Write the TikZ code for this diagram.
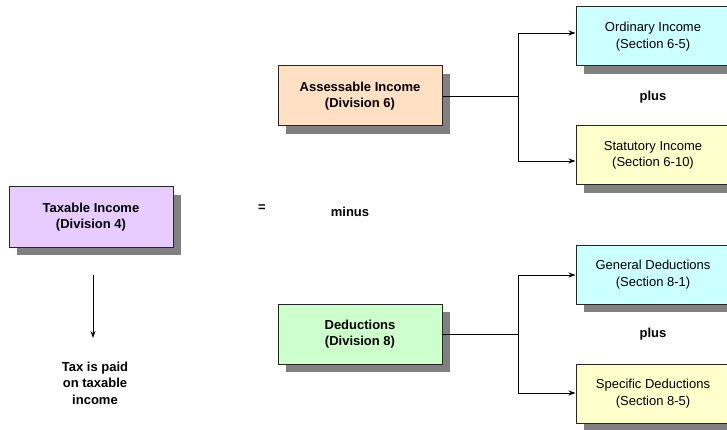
\documentclass[tikz,border=0pt]{standalone}
\usepackage{fontspec}
\setmainfont{Liberation Sans}
\usetikzlibrary{shadows,arrows.meta}
\definecolor{lav}{HTML}{E6CCFF}
\definecolor{peach}{HTML}{FFE0C2}
\definecolor{mint}{HTML}{CCFFCC}
\definecolor{icy}{HTML}{CCFFFF}
\definecolor{cream}{HTML}{FFFFCC}
\tikzset{
  boxa/.style={draw=black!85, line width=1pt, minimum width=164pt, minimum height=60pt,
    align=center, font=\fontsize{13}{16.5}\selectfont\bfseries,
    drop shadow={shadow xshift=8pt, shadow yshift=-8pt, fill=black!50, opacity=1}},
  boxb/.style={draw=black!85, line width=1pt, minimum width=154pt, minimum height=59pt,
    align=center, font=\fontsize{13}{16.5}\selectfont,
    drop shadow={shadow xshift=8pt, shadow yshift=-8pt, fill=black!50, opacity=1}},
  lbl/.style={align=center, font=\fontsize{13}{16.5}\selectfont\bfseries},
  conn/.style={line width=0.9pt, draw=black},
  arr/.style={conn, -{Stealth[length=7pt,width=5pt]}}
}
\begin{document}
\begin{tikzpicture}[x=1pt,y=-1pt]
\useasboundingbox (0,0) rectangle (727,430);
\node[boxa, fill=lav] (tax) at (91,217) {Taxable Income\\(Division 4)};
\node[boxa, fill=peach] (ass) at (360,96) {Assessable Income\\(Division 6)};
\node[boxa, fill=mint] (ded) at (360,334) {Deductions\\(Division 8)};
\node[boxb, fill=icy] (ord) at (653,36.5) {Ordinary Income\\(Section 6-5)};
\node[boxb, fill=cream] (sta) at (653,155.5) {Statutory Income\\(Section 6-10)};
\node[boxb, fill=icy] (gen) at (653,274.5) {General Deductions\\(Section 8-1)};
\node[boxb, fill=cream] (spe) at (653,393.5) {Specific Deductions\\(Section 8-5)};
\node[lbl] (eq) at (262,208) {=};
\node[lbl] (minus) at (350,212) {minus};
\node[lbl] (plus1) at (653,97) {plus};
\node[lbl] (plus2) at (653,334) {plus};
\node[lbl] (paid) at (95,383) {Tax is paid\\on taxable\\income};
% top branch
\coordinate (j1) at (518,96);
\coordinate (t1) at (518,33);
\coordinate (b1) at (518,161);
\draw[conn] (ass.east) -- (j1);
\draw[conn] (t1) -- (b1);
\draw[arr] (t1) -- (ord.west |- t1);
\draw[arr] (b1) -- (sta.west |- b1);
% bottom branch
\coordinate (j2) at (518,334);
\coordinate (t2) at (518,275);
\coordinate (b2) at (518,393);
\draw[conn] (ded.east) -- (j2);
\draw[conn] (t2) -- (b2);
\draw[arr] (t2) -- (gen.west |- t2);
\draw[arr] (b2) -- (spe.west |- b2);
% tax arrow
\coordinate (a1) at (93,275);
\coordinate (a2) at (93,338);
\draw[arr] (a1) -- (a2);
\end{tikzpicture}
\end{document}
